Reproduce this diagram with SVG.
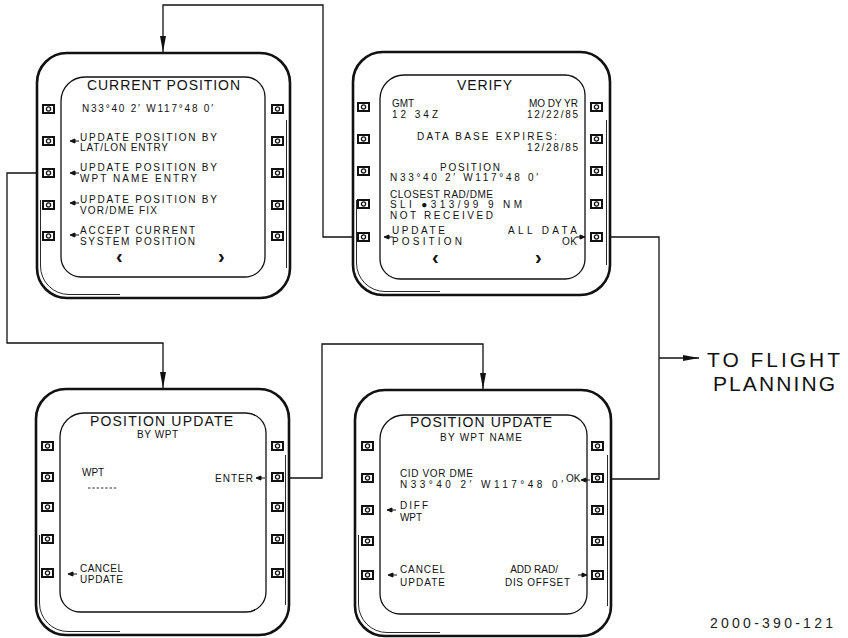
<svg xmlns="http://www.w3.org/2000/svg" xmlns:xlink="http://www.w3.org/1999/xlink" width="848" height="638" viewBox="0 0 848 638">
<style>
.bz{fill:none;stroke:#111;stroke-width:2.6}
.bz2{fill:none;stroke:#111;stroke-width:0.9}
.sc{fill:none;stroke:#111;stroke-width:1.3}
.bt{fill:none;stroke:#111;stroke-width:2}
.bo{fill:none;stroke:#111;stroke-width:1.3}
.t{font-family:"Liberation Sans",Arial,sans-serif;font-size:10px;fill:#111}
.ti{font-family:"Liberation Sans",Arial,sans-serif;font-size:14px;fill:#111}
.ch{font-family:"Liberation Sans",Arial,sans-serif;font-size:20px;font-weight:bold;fill:#111}
.big{font-family:"Liberation Sans",Arial,sans-serif;font-size:21px;fill:#111}
.id{font-family:"Liberation Sans",Arial,sans-serif;font-size:14px;fill:#222}
.cn{fill:none;stroke:#111;stroke-width:1.3}
.sa{fill:#111;stroke:#111;stroke-width:1}
</style>
<defs>
<marker id="ah" markerUnits="userSpaceOnUse" markerWidth="16" markerHeight="8" viewBox="0 0 16 8" refX="16" refY="4" orient="auto">
<path d="M0,1 L16,4 L0,7 Z" fill="#111"/>
</marker>
<path id="al" d="M0,0 L5,-2 L5,2 Z M5,0 H9"/>
<path id="ar" d="M0,0 L-5,-2 L-5,2 Z M-5,0 H-9"/>
<g id="btn"><rect x="0" y="-4" width="11" height="8" class="bt"/><circle cx="5.5" cy="0" r="2.1" class="bo"/></g>
</defs>

<g id="connectors">
<path class="cn" d="M353,237 H323 V5 H163 V52" marker-end="url(#ah)"/>
<path class="cn" d="M37,173 H7 V343 H163 V388" marker-end="url(#ah)"/>
<path class="cn" d="M290,478 H322 V344 H483 V389" marker-end="url(#ah)"/>
<path class="cn" d="M610,237 H659 V479 H611"/>
<path class="cn" d="M659,358 H699" marker-end="url(#ah)"/>
</g>

<g id="current-position">
<rect class="bz" x="37" y="53" width="253" height="245" rx="30"/>
<path class="bz2" d="M40.5,200 V266 A28.5,28.5 0 0 0 69,294.5 H120"/>
<path class="bz2" d="M286.5,120 V268"/>
<path class="sc" d="M85,77 H245 A20,20 0 0 1 265,97 V257 A20,20 0 0 1 245,277 H81 A20,20 0 0 1 61,257 V101 A24,24 0 0 1 85,77 Z"/>
<use href="#btn" x="43" y="109"/><use href="#btn" x="43" y="141"/><use href="#btn" x="43" y="173"/><use href="#btn" x="43" y="205"/><use href="#btn" x="43" y="236"/>
<use href="#btn" x="272" y="109"/><use href="#btn" x="272" y="141"/><use href="#btn" x="272" y="173"/><use href="#btn" x="272" y="205"/><use href="#btn" x="272" y="236"/>
<text class="ti" x="87" y="90" textLength="153" lengthAdjust="spacing">CURRENT POSITION</text>
<text class="t" x="82" y="112" textLength="131" lengthAdjust="spacing">N33°40 2′ W117°48 0′</text>
<text class="t" x="80" y="140.5" textLength="137" lengthAdjust="spacing">UPDATE POSITION BY</text>
<text class="t" x="80" y="150.5" textLength="88" lengthAdjust="spacing">LAT/LON ENTRY</text>
<text class="t" x="80" y="171" textLength="137" lengthAdjust="spacing">UPDATE POSITION BY</text>
<text class="t" x="80" y="182" textLength="117" lengthAdjust="spacing">WPT NAME ENTRY</text>
<text class="t" x="80" y="202.5" textLength="137" lengthAdjust="spacing">UPDATE POSITION BY</text>
<text class="t" x="80" y="213.5" textLength="77" lengthAdjust="spacing">VOR/DME FIX</text>
<text class="t" x="80" y="234" textLength="115" lengthAdjust="spacing">ACCEPT CURRENT</text>
<text class="t" x="80" y="245" textLength="115" lengthAdjust="spacing">SYSTEM POSITION</text>
<use href="#al" class="sa" x="70" y="141"/><use href="#al" class="sa" x="70" y="173"/><use href="#al" class="sa" x="70" y="203"/><use href="#al" class="sa" x="70" y="235"/>
<text class="ch" x="116" y="263">‹</text>
<text class="ch" x="218" y="263">›</text>
</g>

<g id="verify">
<rect class="bz" x="353" y="52" width="257" height="243" rx="30"/>
<path class="bz2" d="M356.5,200 V263 A28.5,28.5 0 0 0 385,291.5 H440"/>
<path class="bz2" d="M606.5,120 V265"/>
<path class="sc" d="M404,75 H565 A20,20 0 0 1 585,95 V259 A20,20 0 0 1 565,279 H400 A20,20 0 0 1 380,259 V99 A24,24 0 0 1 404,75 Z"/>
<use href="#btn" x="358" y="107"/><use href="#btn" x="358" y="139"/><use href="#btn" x="358" y="171"/><use href="#btn" x="358" y="204"/><use href="#btn" x="358" y="237"/>
<use href="#btn" x="591" y="107"/><use href="#btn" x="591" y="139"/><use href="#btn" x="591" y="171"/><use href="#btn" x="591" y="204"/><use href="#btn" x="591" y="237"/>
<text class="ti" x="457" y="89.5" textLength="55" lengthAdjust="spacing">VERIFY</text>
<text class="t" x="392" y="107">GMT</text>
<text class="t" x="392" y="118" textLength="46" lengthAdjust="spacing">12 34Z</text>
<text class="t" x="578" y="107" text-anchor="end">MO DY YR</text>
<text class="t" x="527" y="118" textLength="51" lengthAdjust="spacing">12/22/85</text>
<text class="t" x="417" y="140" textLength="140" lengthAdjust="spacing">DATA BASE EXPIRES:</text>
<text class="t" x="527" y="151" textLength="51" lengthAdjust="spacing">12/28/85</text>
<text class="t" x="440" y="171" textLength="60" lengthAdjust="spacing">POSITION</text>
<text class="t" x="390" y="180.5" textLength="148" lengthAdjust="spacing">N33°40 2′ W117°48 0′</text>
<text class="t" x="390" y="197.5" textLength="103" lengthAdjust="spacing">CLOSEST RAD/DME</text>
<text class="t" x="390" y="207.5" textLength="132" lengthAdjust="spacing">SLI ●313/99 9 NM</text>
<text class="t" x="390" y="218.5" textLength="103" lengthAdjust="spacing">NOT RECEIVED</text>
<text class="t" x="392" y="234" textLength="53" lengthAdjust="spacing">UPDATE</text>
<text class="t" x="392" y="245" textLength="70" lengthAdjust="spacing">POSITION</text>
<text class="t" x="508" y="234" textLength="69" lengthAdjust="spacing">ALL DATA</text>
<text class="t" x="562" y="245" textLength="15" lengthAdjust="spacing">OK</text>
<use href="#al" class="sa" x="384" y="237"/>
<use href="#ar" class="sa" x="585" y="237"/>
<text class="ch" x="432" y="264">‹</text>
<text class="ch" x="535" y="264">›</text>
</g>

<g id="position-update-by-wpt">
<rect class="bz" x="36" y="389" width="253" height="246" rx="30"/>
<path class="bz2" d="M39.5,535 V603 A28.5,28.5 0 0 0 68,631.5 H120"/>
<path class="bz2" d="M285.5,455 V605"/>
<path class="sc" d="M84,413 H246 A20,20 0 0 1 266,433 V592 A20,20 0 0 1 246,612 H80 A20,20 0 0 1 60,592 V437 A24,24 0 0 1 84,413 Z"/>
<use href="#btn" x="42" y="446"/><use href="#btn" x="42" y="477"/><use href="#btn" x="42" y="507"/><use href="#btn" x="42" y="539"/><use href="#btn" x="42" y="573"/>
<use href="#btn" x="272" y="446"/><use href="#btn" x="272" y="477"/><use href="#btn" x="272" y="507"/><use href="#btn" x="272" y="539"/><use href="#btn" x="272" y="573"/>
<text class="ti" x="90" y="426" textLength="143" lengthAdjust="spacing">POSITION UPDATE</text>
<text class="t" x="137" y="437.5" textLength="41" lengthAdjust="spacing">BY WPT</text>
<text class="t" x="82" y="476">WPT</text>
<path d="M88,488 H118" fill="none" stroke="#333" stroke-width="1" stroke-dasharray="2.5 1.8"/>
<text class="t" x="215" y="482" textLength="38" lengthAdjust="spacing">ENTER</text>
<use href="#al" class="sa" x="256" y="478"/>
<text class="t" x="80" y="572" textLength="43" lengthAdjust="spacing">CANCEL</text>
<text class="t" x="80" y="583" textLength="43" lengthAdjust="spacing">UPDATE</text>
<use href="#al" class="sa" x="68" y="574"/>
</g>

<g id="position-update-by-wpt-name">
<rect class="bz" x="355" y="390" width="256" height="246" rx="30"/>
<path class="bz2" d="M358.5,535 V604 A28.5,28.5 0 0 0 387,632.5 H440"/>
<path class="bz2" d="M607.5,455 V606"/>
<path class="sc" d="M404,415 H567 A20,20 0 0 1 587,435 V594 A20,20 0 0 1 567,614 H400 A20,20 0 0 1 380,594 V439 A24,24 0 0 1 404,415 Z"/>
<use href="#btn" x="362" y="446"/><use href="#btn" x="362" y="478"/><use href="#btn" x="362" y="510"/><use href="#btn" x="362" y="541"/><use href="#btn" x="362" y="575"/>
<use href="#btn" x="592" y="446"/><use href="#btn" x="592" y="478"/><use href="#btn" x="592" y="510"/><use href="#btn" x="592" y="541"/><use href="#btn" x="592" y="575"/>
<text class="ti" x="410" y="427" textLength="142" lengthAdjust="spacing">POSITION UPDATE</text>
<text class="t" x="440" y="440.5" textLength="82" lengthAdjust="spacing">BY WPT NAME</text>
<text class="t" x="400" y="477" textLength="73" lengthAdjust="spacing">CID VOR DME</text>
<text class="t" x="400" y="487.5" textLength="163" lengthAdjust="spacing">N33°40 2′ W117°48 0′</text>
<text class="t" x="566" y="482">OK</text>
<use href="#al" class="sa" x="581" y="480"/>
<text class="t" x="400" y="509" textLength="28" lengthAdjust="spacing">DIFF</text>
<text class="t" x="400" y="521" textLength="22" lengthAdjust="spacing">WPT</text>
<use href="#al" class="sa" x="387" y="510"/>
<text class="t" x="400" y="573" textLength="45" lengthAdjust="spacing">CANCEL</text>
<text class="t" x="400" y="586" textLength="45" lengthAdjust="spacing">UPDATE</text>
<use href="#al" class="sa" x="388" y="575"/>
<text class="t" x="558" y="573" text-anchor="end">ADD RAD/</text>
<text class="t" x="505" y="586" textLength="65" lengthAdjust="spacing">DIS OFFSET</text>
<use href="#ar" class="sa" x="587" y="575"/>
</g>

<g id="to-flight-planning">
<text class="big" x="707" y="366.5" textLength="133" lengthAdjust="spacing">TO FLIGHT</text>
<text class="big" x="713" y="391" textLength="122" lengthAdjust="spacing">PLANNING</text>
</g>
<text class="id" x="710" y="628" textLength="123" lengthAdjust="spacing">2000-390-121</text>
</svg>
